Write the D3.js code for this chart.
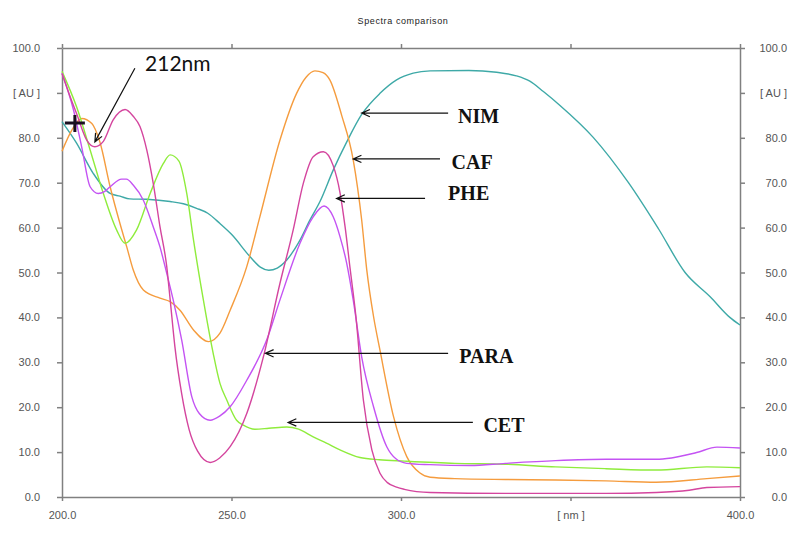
<!DOCTYPE html>
<html>
<head>
<meta charset="utf-8">
<script src="https://cdn.jsdelivr.net/npm/d3@7"></script>
<style>
    body { margin: 0; background: #fff; }
    svg { display: block; }
    .axis path, .axis line { stroke: #808080; stroke-width: 1.5; }
    .axis text { fill: #555; font-family: "Liberation Sans", Arial, sans-serif; font-size: 11px; }
    .spectrum { fill: none; stroke-width: 1.4; stroke-linejoin: round; }
    .pointer { stroke: #111; stroke-width: 1.2; fill: none; }
    .compound { font-family: "Liberation Serif", "Times New Roman", serif; font-weight: bold; font-size: 20px; fill: #111; }
</style>
</head>
<body>
<div class="svg-container"></div>
<script>
const SVG_WIDTH = 791;
const SVG_HEIGHT = 533;
const PLOT = { left: 62, right: 740, top: 48, bottom: 497 };

// Spectra: [wavelength in nm, absorbance]
const nim = [
    [200, 83.6], [204.3, 78.8], [209.2, 72.1], [214.2, 67.6], [217.1, 67], [220, 66.4],
    [225, 66.3], [231.9, 65.8], [235.8, 65.3], [239.7, 64.3], [243, 63.2], [246.6, 60.9],
    [250, 58.5], [255.5, 53.5], [258.5, 51.2], [261, 50.5], [263.5, 51], [266.3, 52.8],
    [270.2, 57.2], [273, 61.5], [276.1, 65.8], [280, 72.8], [284, 79.1], [288.4, 85.2],
    [293.8, 89.9], [298.7, 92.9], [303.6, 94.4], [308.6, 94.9], [320, 95], [328.2, 94.6],
    [334, 93.8], [338, 92.6], [342, 90.3], [346.9, 87.2], [356.7, 80.1], [367.1, 70],
    [375.9, 59.8], [383.8, 50], [391.2, 44.6], [397, 40], [400, 38.3],
];
const caf = [
    [200, 77], [202.9, 81.7], [205.8, 84.3], [208.8, 83.2], [211.2, 79], [214.2, 69.1],
    [217.1, 60.9], [219.1, 55.7], [221, 50.6], [224, 46.1], [228.9, 44.3], [231.9, 43.5],
    [234.8, 41.6], [238.8, 37.2], [243.2, 34.6], [246.6, 36.5], [249.6, 41.6], [254.5, 51.3],
    [258.4, 62.5], [264.3, 79.5], [269.2, 89.9], [272, 93.5], [274.6, 94.9], [277, 94.5],
    [279, 92.9], [282.5, 85], [285.9, 75.1], [288.4, 61.7], [289.9, 50.6], [291.9, 40.2],
    [293.8, 32.7], [297.8, 17.9], [301.7, 9], [305.5, 5.4], [308.6, 4.4], [315.9, 4.1],
    [330.8, 3.9], [345.6, 3.8], [360.5, 3.6], [375.3, 3.3], [390.2, 4.1], [400, 4.7],
];
const phe = [
    [200, 94.3], [202, 90], [204.3, 85.4], [207.3, 79.5], [209.7, 78], [212.2, 79.2],
    [215.1, 84], [218.6, 86.3], [221, 84.8], [223, 82.5], [225, 77.3], [226.9, 69.9],
    [228.9, 60.2], [230.9, 51.3], [231.9, 44], [233.3, 33.5], [235.3, 23], [237.5, 15],
    [240, 10.2], [243.7, 7.7], [246.5, 8.7], [249.6, 11.2], [254.5, 18.6], [259.4, 31.2],
    [264.3, 47.6], [268.2, 59.5], [271.2, 69.9], [274.1, 75.8], [277.1, 76.9], [280, 73.8],
    [282, 67.8], [283.5, 60.2], [285, 50.8], [286.7, 40.2], [288.9, 21.6], [291.4, 10.5],
    [293.8, 5.3], [296, 3.2], [298.7, 2.2], [301, 1.7], [308.6, 1], [330.8, 0.8],
    [360.5, 0.8], [375.3, 1], [385, 1.5], [390.2, 2.1], [400, 2.3],
];
const para = [
    [200, 94.4], [203.4, 86.2], [205.8, 78], [208.3, 69.1], [210.7, 67.6], [212.5, 68],
    [214.2, 69.1], [217.6, 70.8], [219, 70.8], [221, 69.5], [224, 66.1], [226.9, 60.2],
    [228.9, 55.7], [230.9, 49.8], [232.8, 43.9], [235.3, 35], [238.3, 22.3], [240.5, 18.6],
    [243.7, 17.1], [246.5, 18], [249.6, 20.1], [254.5, 26], [260.4, 35], [264.3, 43.9],
    [270.2, 56.5], [274.1, 62.4], [277.3, 64.8], [280, 62.4], [282, 58], [284, 52],
    [285.9, 43.9], [288.4, 31.2], [291.9, 20.1], [295.8, 11.2], [298.5, 8.5], [301.7, 7.5],
    [308.6, 7.2], [320.4, 7], [330.8, 7.5], [345.6, 8.1], [360.5, 8.4], [375.3, 8.4],
    [379.8, 8.7], [387.2, 9.9], [393.2, 11.1], [400, 10.9],
];
const cet = [
    [200, 94.8], [204.3, 86.9], [208.3, 77.3], [212.2, 67.6], [216.1, 59.5], [218.6, 56.5],
    [222, 59.5], [226, 67.6], [229.9, 74.3], [231.9, 76.2], [234.5, 74.8], [236.8, 67.6],
    [238.8, 57.2], [241.7, 43.9], [244.6, 32], [246.6, 25.3], [248.6, 21.6], [251.5, 17.1],
    [253.5, 16], [256.9, 15.1], [261, 15.3], [266.3, 15.6], [269.8, 15.1], [274.1, 13.4],
    [278, 12], [282, 10.5], [287.9, 8.8], [293.6, 8.3], [301, 8], [315.9, 7.5],
    [330.8, 7.3], [345.6, 6.7], [360.5, 6.3], [375.3, 6], [390.2, 6.7], [400, 6.5],
];

const spectra = [
    { name: "NIM", color: "#3ea9a7", points: nim },
    { name: "CAF", color: "#f59c3e", points: caf },
    { name: "CET", color: "#8fec3c", points: cet },
    { name: "PARA", color: "#c453f3", points: para },
    { name: "PHE", color: "#d4459e", points: phe },
];

const xTicks = [200, 250, 300, 350, 400];
const xTickLabels = ["200.0", "250.0", "300.0", "[ nm ]", "400.0"];
const yTicks = [0, 10, 20, 30, 40, 50, 60, 70, 80, 90, 100];
const yTickLabels = ["0.0", "10.0", "20.0", "30.0", "40.0", "50.0", "60.0", "70.0", "80.0", "[ AU ]", "100.0"];

// Pointer arrows: tip and tail of the arrow, and where the label starts (nm, AU).
const pointers = [
    { text: "NIM", tip: [288.4, 85.5], tail: [313.9, 85.5], label: [316.8, 83.3] },
    { text: "CAF", tip: [285.9, 75.3], tail: [311.5, 75.3], label: [314.9, 73.0] },
    { text: "PHE", tip: [281.0, 66.5], tail: [307.1, 66.5], label: [313.9, 66.1] },
    { text: "PARA", tip: [260.0, 32.0], tail: [313.9, 32.0], label: [317.2, 29.9] },
    { text: "CET", tip: [266.7, 16.6], tail: [321.2, 16.6], label: [324.3, 14.5] },
];
const peakNote = { text: "212nm", tip: [209.7, 79.1], tail: [221.5, 95.5], label: [224.5, 94.9] };
const cursorMark = [203.8, 83.3];

const x = d3.scaleLinear().domain([200, 400]).range([PLOT.left, PLOT.right]);
const y = d3.scaleLinear().domain([0, 100]).range([PLOT.bottom, PLOT.top]);

const svg = d3
    .select(".svg-container")
    .append("svg")
    .attr("width", SVG_WIDTH)
    .attr("height", SVG_HEIGHT);

svg.append("text")
    .attr("x", 403)
    .attr("y", 24)
    .attr("text-anchor", "middle")
    .attr("font-family", "Liberation Sans, Arial, sans-serif")
    .attr("font-size", 9)
    .attr("letter-spacing", 0.6)
    .attr("fill", "#222")
    .text("Spectra comparison");

// Axes on all four sides.
svg.append("g")
    .classed("axis", true)
    .attr("transform", "translate(" + PLOT.left + ",0)")
    .call(d3.axisLeft(y).tickValues(yTicks).tickFormat((d, i) => yTickLabels[i]).tickSize(5).tickSizeOuter(0).tickPadding(17));

const rightAxis = svg.append("g")
    .classed("axis", true)
    .attr("transform", "translate(" + PLOT.right + ",0)")
    .call(d3.axisRight(y).tickValues(yTicks).tickFormat((d, i) => yTickLabels[i]).tickSize(5).tickSizeOuter(0));
rightAxis.selectAll("text").attr("x", 47).attr("text-anchor", "end");

svg.append("g")
    .classed("axis", true)
    .attr("transform", "translate(0," + PLOT.bottom + ")")
    .call(d3.axisBottom(x).tickValues(xTicks).tickFormat((d, i) => xTickLabels[i]).tickSize(4).tickSizeOuter(0).tickPadding(10));

svg.append("g")
    .classed("axis", true)
    .attr("transform", "translate(0," + PLOT.top + ")")
    .call(d3.axisTop(x).tickValues(xTicks).tickFormat("").tickSize(4).tickSizeOuter(0));

svg.selectAll(".axis .domain").attr("stroke-width", 1.6);

// Spectra
const line = d3
    .line()
    .x((d) => x(d[0]))
    .y((d) => y(d[1]))
    .curve(d3.curveMonotoneX);

svg.append("g")
    .selectAll("path.spectrum")
    .data(spectra)
    .enter()
    .append("path")
    .classed("spectrum", true)
    .attr("stroke", (s) => s.color)
    .attr("d", (s) => line(s.points));

// Cursor cross at the start of the spectra.
const cx = x(cursorMark[0]);
const cy = y(cursorMark[1]);
svg.append("path")
    .attr("d", "M" + (cx - 10) + "," + cy + "H" + (cx + 10) + "M" + cx + "," + (cy - 8) + "V" + (cy + 9))
    .attr("stroke", "#1a0f1f")
    .attr("stroke-width", 3)
    .attr("fill", "none");

function arrowPath(p) {
    const x1 = x(p.tail[0]), y1 = y(p.tail[1]);
    const x2 = x(p.tip[0]), y2 = y(p.tip[1]);
    const angle = Math.atan2(y1 - y2, x1 - x2);
    const len = 9, spread = 0.42;
    const a = [x2 + len * Math.cos(angle - spread), y2 + len * Math.sin(angle - spread)];
    const b = [x2 + len * Math.cos(angle + spread), y2 + len * Math.sin(angle + spread)];
    return "M" + x1 + "," + y1 + "L" + x2 + "," + y2 +
        "M" + a[0] + "," + a[1] + "L" + x2 + "," + y2 + "L" + b[0] + "," + b[1];
}

const pointerG = svg.append("g");
pointerG.selectAll("path.pointer")
    .data(pointers.concat([peakNote]))
    .enter()
    .append("path")
    .classed("pointer", true)
    .attr("d", arrowPath);

pointerG.selectAll("text.compound")
    .data(pointers)
    .enter()
    .append("text")
    .classed("compound", true)
    .attr("x", (p) => x(p.label[0]))
    .attr("y", (p) => y(p.label[1]))
    .text((p) => p.text);

pointerG.append("text")
    .attr("x", x(peakNote.label[0]))
    .attr("y", y(peakNote.label[1]))
    .attr("font-family", "Lato, 'Open Sans', sans-serif")
    .attr("font-size", 21)
    .attr("fill", "#111")
    .text(peakNote.text);
</script>
</body>
</html>
